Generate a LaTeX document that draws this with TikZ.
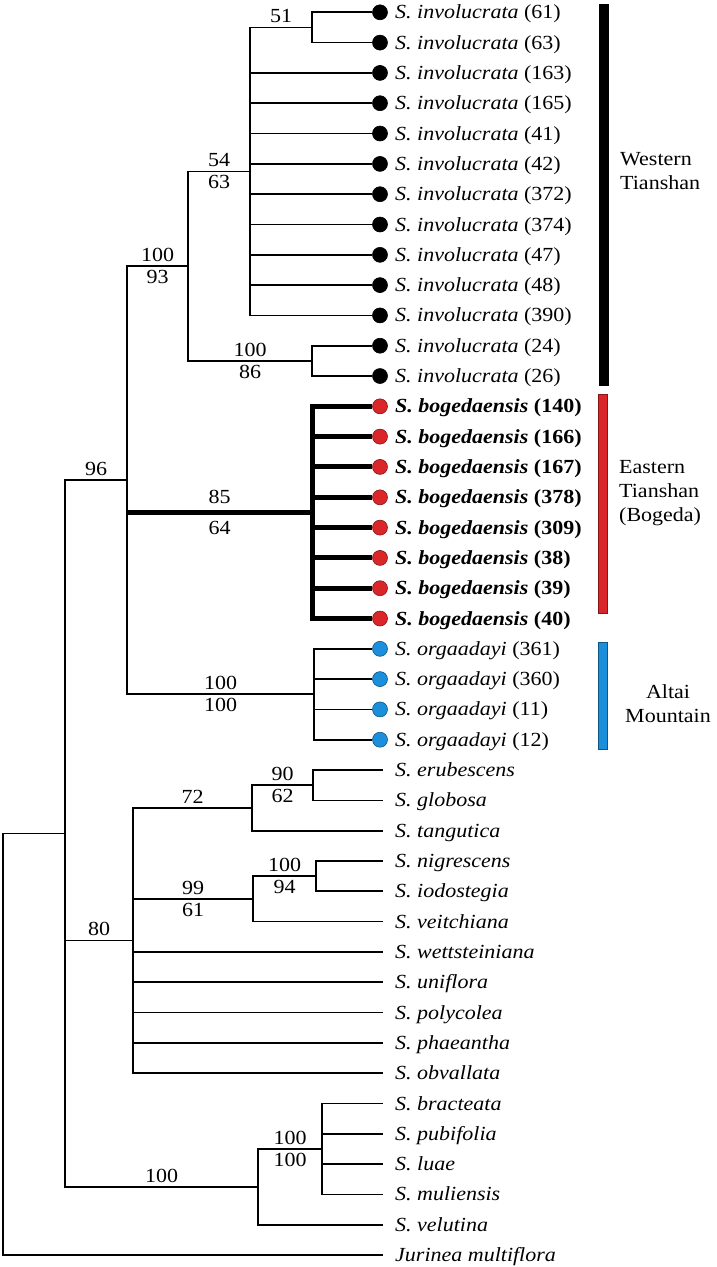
\documentclass[tikz,border=0pt]{standalone}
\usepackage{fontspec}
\setmainfont{Liberation Serif}
\newfontfamily\treefont{Liberation Serif}[FakeStretch=1.1]
\definecolor{bogred}{RGB}{218,38,40}
\definecolor{altblue}{RGB}{27,143,219}
\begin{document}
\begin{tikzpicture}[x=1pt,y=-1pt,font=\treefont\fontsize{20}{24}\selectfont,
    branch/.style={line width=1.7pt},
    boldbranch/.style={line width=5pt},
    tip/.style={circle,draw=#1!60!black,fill=#1,line width=0.6pt,minimum size=15pt,inner sep=0pt},
    leaf/.style={anchor=base west,inner sep=0pt,yshift=-6.5pt},
    bs/.style={inner sep=3.5pt},
    area/.style={draw=#1!60!black,fill=#1,line width=0.6pt},
    areaname/.style={inner sep=0pt}]
  \useasboundingbox (0,0) rectangle (716,1267);
  % sampled populations
  \node[tip=black] (i61) at (380,12.3) {};
  \node[tip=black] (i63) at (380,42.6) {};
  \node[tip=black] (i163) at (380,72.9) {};
  \node[tip=black] (i165) at (380,103.2) {};
  \node[tip=black] (i41) at (380,133.5) {};
  \node[tip=black] (i42) at (380,163.9) {};
  \node[tip=black] (i372) at (380,194.2) {};
  \node[tip=black] (i374) at (380,224.5) {};
  \node[tip=black] (i47) at (380,254.8) {};
  \node[tip=black] (i48) at (380,285.1) {};
  \node[tip=black] (i390) at (380,315.4) {};
  \node[tip=black] (i24) at (380,345.7) {};
  \node[tip=black] (i26) at (380,376.0) {};
  \node[tip=bogred] (b140) at (380,406.3) {};
  \node[tip=bogred] (b166) at (380,436.6) {};
  \node[tip=bogred] (b167) at (380,466.9) {};
  \node[tip=bogred] (b378) at (380,497.3) {};
  \node[tip=bogred] (b309) at (380,527.6) {};
  \node[tip=bogred] (b38) at (380,557.9) {};
  \node[tip=bogred] (b39) at (380,588.2) {};
  \node[tip=bogred] (b40) at (380,618.5) {};
  \node[tip=altblue] (o361) at (380,648.8) {};
  \node[tip=altblue] (o360) at (380,679.1) {};
  \node[tip=altblue] (o11) at (380,709.4) {};
  \node[tip=altblue] (o12) at (380,739.7) {};
  \node[leaf,xshift=15pt] (t61) at (i61) {\textit{S. involucrata} (61)};
  \node[leaf,xshift=15pt] (t63) at (i63) {\textit{S. involucrata} (63)};
  \node[leaf,xshift=15pt] (t163) at (i163) {\textit{S. involucrata} (163)};
  \node[leaf,xshift=15pt] (t165) at (i165) {\textit{S. involucrata} (165)};
  \node[leaf,xshift=15pt] (t41) at (i41) {\textit{S. involucrata} (41)};
  \node[leaf,xshift=15pt] (t42) at (i42) {\textit{S. involucrata} (42)};
  \node[leaf,xshift=15pt] (t372) at (i372) {\textit{S. involucrata} (372)};
  \node[leaf,xshift=15pt] (t374) at (i374) {\textit{S. involucrata} (374)};
  \node[leaf,xshift=15pt] (t47) at (i47) {\textit{S. involucrata} (47)};
  \node[leaf,xshift=15pt] (t48) at (i48) {\textit{S. involucrata} (48)};
  \node[leaf,xshift=15pt] (t390) at (i390) {\textit{S. involucrata} (390)};
  \node[leaf,xshift=15pt] (t24) at (i24) {\textit{S. involucrata} (24)};
  \node[leaf,xshift=15pt] (t26) at (i26) {\textit{S. involucrata} (26)};
  \node[leaf,xshift=15pt] (t140) at (b140) {\textbf{\textit{S. bogedaensis} (140)}};
  \node[leaf,xshift=15pt] (t166) at (b166) {\textbf{\textit{S. bogedaensis} (166)}};
  \node[leaf,xshift=15pt] (t167) at (b167) {\textbf{\textit{S. bogedaensis} (167)}};
  \node[leaf,xshift=15pt] (t378) at (b378) {\textbf{\textit{S. bogedaensis} (378)}};
  \node[leaf,xshift=15pt] (t309) at (b309) {\textbf{\textit{S. bogedaensis} (309)}};
  \node[leaf,xshift=15pt] (t38) at (b38) {\textbf{\textit{S. bogedaensis} (38)}};
  \node[leaf,xshift=15pt] (t39) at (b39) {\textbf{\textit{S. bogedaensis} (39)}};
  \node[leaf,xshift=15pt] (t40) at (b40) {\textbf{\textit{S. bogedaensis} (40)}};
  \node[leaf,xshift=15pt] (t361) at (o361) {\textit{S. orgaadayi} (361)};
  \node[leaf,xshift=15pt] (t360) at (o360) {\textit{S. orgaadayi} (360)};
  \node[leaf,xshift=15pt] (t11) at (o11) {\textit{S. orgaadayi} (11)};
  \node[leaf,xshift=15pt] (t12) at (o12) {\textit{S. orgaadayi} (12)};
  % other species
  \coordinate (erub) at (383,770.0);
  \coordinate (glob) at (383,800.4);
  \coordinate (tang) at (383,830.7);
  \coordinate (nigr) at (383,861.0);
  \coordinate (iodo) at (383,891.3);
  \coordinate (veit) at (383,921.6);
  \coordinate (wett) at (383,951.9);
  \coordinate (unif) at (383,982.2);
  \coordinate (poly) at (383,1012.5);
  \coordinate (phae) at (383,1042.8);
  \coordinate (obva) at (383,1073.1);
  \coordinate (brac) at (383,1103.5);
  \coordinate (pubi) at (383,1133.8);
  \coordinate (luae) at (383,1164.1);
  \coordinate (muli) at (383,1194.4);
  \coordinate (velu) at (383,1224.7);
  \coordinate (juri) at (383,1255.0);
  \node[leaf,xshift=12pt] (erubT) at (erub) {\textit{S. erubescens}};
  \node[leaf,xshift=12pt] (globT) at (glob) {\textit{S. globosa}};
  \node[leaf,xshift=12pt] (tangT) at (tang) {\textit{S. tangutica}};
  \node[leaf,xshift=12pt] (nigrT) at (nigr) {\textit{S. nigrescens}};
  \node[leaf,xshift=12pt] (iodoT) at (iodo) {\textit{S. iodostegia}};
  \node[leaf,xshift=12pt] (veitT) at (veit) {\textit{S. veitchiana}};
  \node[leaf,xshift=12pt] (wettT) at (wett) {\textit{S. wettsteiniana}};
  \node[leaf,xshift=12pt] (unifT) at (unif) {\textit{S. uniflora}};
  \node[leaf,xshift=12pt] (polyT) at (poly) {\textit{S. polycolea}};
  \node[leaf,xshift=12pt] (phaeT) at (phae) {\textit{S. phaeantha}};
  \node[leaf,xshift=12pt] (obvaT) at (obva) {\textit{S. obvallata}};
  \node[leaf,xshift=12pt] (bracT) at (brac) {\textit{S. bracteata}};
  \node[leaf,xshift=12pt] (pubiT) at (pubi) {\textit{S. pubifolia}};
  \node[leaf,xshift=12pt] (luaeT) at (luae) {\textit{S. luae}};
  \node[leaf,xshift=12pt] (muliT) at (muli) {\textit{S. muliensis}};
  \node[leaf,xshift=12pt] (veluT) at (velu) {\textit{S. velutina}};
  \node[leaf,xshift=12pt] (juriT) at (juri) {\textit{Jurinea multiflora}};
  % internal nodes
  \coordinate (invA) at (312,27.5);
  \coordinate (invAll) at (250,171.4);
  \coordinate (invB) at (312,360.9);
  \coordinate (inv) at (188,266.2);
  \coordinate (bog) at (312,512.4);
  \coordinate (org) at (314,694.3);
  \coordinate (tian) at (127,480.2);
  \coordinate (eru) at (313,785.2);
  \coordinate (eruTan) at (252,808.0);
  \coordinate (nig) at (316,876.2);
  \coordinate (nigVei) at (253,898.9);
  \coordinate (core) at (133,940.5);
  \coordinate (bra) at (322,1149.0);
  \coordinate (braVel) at (258,1186.8);
  \coordinate (ingroup) at (65,833.5);
  \coordinate (root) at (3,1044.0);
  \begin{scope}[branch]
    \draw (invA) |- (i61);
    \draw (invA) |- (i63);
    \draw (invAll) |- node[pos=.75,above,bs]{51} (invA);
    \draw (invAll) |- (i163);
    \draw (invAll) |- (i165);
    \draw (invAll) |- (i41);
    \draw (invAll) |- (i42);
    \draw (invAll) |- (i372);
    \draw (invAll) |- (i374);
    \draw (invAll) |- (i47);
    \draw (invAll) |- (i48);
    \draw (invAll) |- (i390);
    \draw (invB) |- (i24);
    \draw (invB) |- (i26);
    \draw (inv) |- node[pos=.75,above,bs]{54} node[pos=.75,below,bs]{63} (invAll);
    \draw (inv) |- node[pos=.75,above,bs]{100} node[pos=.75,below,bs]{86} (invB);
    \draw (tian) |- node[pos=.75,above,bs]{100} node[pos=.75,below,bs]{93} (inv);
    \draw (tian) |- node[pos=.75,above,bs]{100} node[pos=.75,below,bs]{100} (org);
    \draw (org) |- (o361);
    \draw (org) |- (o360);
    \draw (org) |- (o11);
    \draw (org) |- (o12);
    \draw (ingroup) |- node[pos=.75,above,bs]{96} (tian);
    \draw (ingroup) |- node[pos=.75,above,bs]{80} (core);
    \draw (ingroup) |- node[pos=.75,above,bs]{100} (braVel);
    \draw (core) |- node[pos=.75,above,bs]{72} (eruTan);
    \draw (eruTan) |- node[pos=.75,above,bs]{90} node[pos=.75,below,bs]{62} (eru);
    \draw (eru) |- (erub);
    \draw (eru) |- (glob);
    \draw (eruTan) |- (tang);
    \draw (core) |- node[pos=.75,above,bs]{99} node[pos=.75,below,bs]{61} (nigVei);
    \draw (nigVei) |- node[pos=.75,above,bs]{100} node[pos=.75,below,bs]{94} (nig);
    \draw (nig) |- (nigr);
    \draw (nig) |- (iodo);
    \draw (nigVei) |- (veit);
    \draw (core) |- (wett);
    \draw (core) |- (unif);
    \draw (core) |- (poly);
    \draw (core) |- (phae);
    \draw (core) |- (obva);
    \draw (braVel) |- node[pos=.75,above,bs]{100} node[pos=.75,below,bs]{100} (bra);
    \draw (bra) |- (brac);
    \draw (bra) |- (pubi);
    \draw (bra) |- (luae);
    \draw (bra) |- (muli);
    \draw (braVel) |- (velu);
    \draw (root) |- (ingroup);
    \draw (root) |- (juri);
  \end{scope}
  \begin{scope}[boldbranch]
    \draw (tian |- bog) -- node[above,inner sep=6pt]{85} node[below,inner sep=6pt]{64} (bog);
    \draw (bog) |- (b140);
    \draw (bog) |- (b166);
    \draw (bog) |- (b167);
    \draw (bog) |- (b378);
    \draw (bog) |- (b309);
    \draw (bog) |- (b38);
    \draw (bog) |- (b39);
    \draw (bog) |- (b40);
  \end{scope}
  % distribution bars
  \draw[area=black] (599,4.7) rectangle (608,385);
  \draw[area=bogred] (598,394) rectangle (607,613);
  \draw[area=altblue] (598,642.7) rectangle (607,749);
  \node[areaname,anchor=west,align=left] (west) at (620,171) {Western\\Tianshan};
  \node[areaname,anchor=west,align=left] (east) at (619,493) {Eastern\\Tianshan\\(Bogeda)};
  \node[areaname,align=center] (altai) at (668,704) {Altai\\Mountain};
\end{tikzpicture}
\end{document}
